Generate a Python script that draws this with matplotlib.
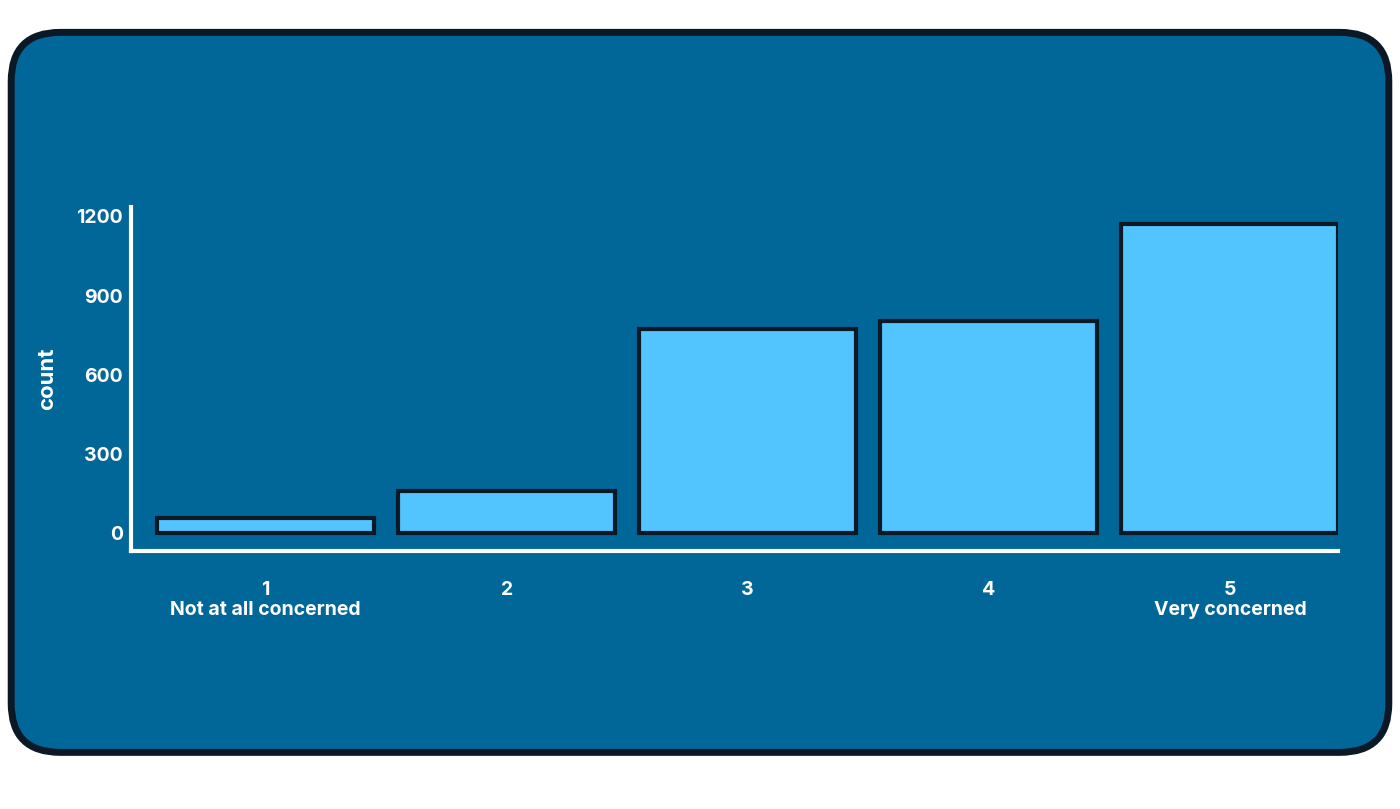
import matplotlib
matplotlib.use('Agg')
import matplotlib.pyplot as plt
from matplotlib.patches import FancyBboxPatch

# data
categories = ['1\nNot at all concerned', '2', '3', '4', '5\nVery concerned']
counts = [55, 160, 772, 802, 1170]
yticks = [0, 300, 600, 900, 1200]

BG = '#016698'
BAR = '#52c4fe'
EDGE = '#0b1826'

plt.rcParams['font.family'] = ['Inter', 'DejaVu Sans']
plt.rcParams['font.weight'] = 'bold'

fig = plt.figure(figsize=(14, 8.09), dpi=100)
fig.patch.set_facecolor('white')
card = FancyBboxPatch((0.008, 0.07), 0.984, 0.89, boxstyle='round,pad=0,rounding_size=0.035',
                      transform=fig.transFigure, facecolor=BG, edgecolor=EDGE, linewidth=5,
                      mutation_aspect=14 / 8.09, zorder=-5)
fig.patches.append(card)

ax = fig.add_axes([0.0936, 0.319, 0.8624, 0.425])
ax.set_zorder(2)
ax.set_facecolor('none')
x = range(len(counts))
ax.bar(x, counts, width=0.9, color=BAR, edgecolor=EDGE, linewidth=3)

ax.set_xlim(-0.558, 4.45)
ax.set_ylim(-68, 1235)
ax.set_yticks(yticks)
ax.set_xticks(list(x))
ax.set_xticklabels(categories, linespacing=1.1)
ax.tick_params(axis='both', length=0, colors='white', labelsize=14)
ax.tick_params(axis='x', pad=22)
ax.tick_params(axis='y', pad=6)
ax.set_ylabel('count', color='white', fontsize=16, fontweight='bold', labelpad=14)

for s in ['top', 'right']:
    ax.spines[s].set_visible(False)
for s in ['left', 'bottom']:
    ax.spines[s].set_color('white')
    ax.spines[s].set_linewidth(3)

fig.savefig('out.png', dpi=100)
